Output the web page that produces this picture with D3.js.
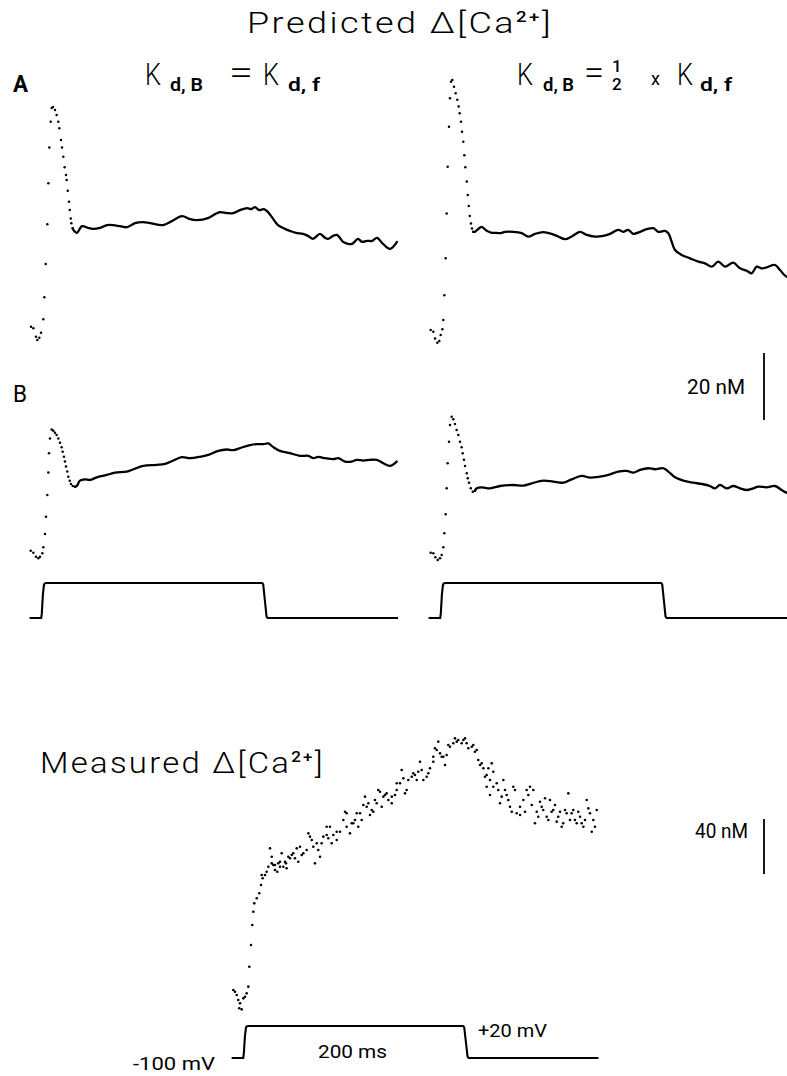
<!DOCTYPE html>
<html>
<head>
<meta charset="utf-8">
<script src="https://cdn.jsdelivr.net/npm/d3@7"></script>
<style>
  html, body { margin: 0; padding: 0; background: #fff; }
  svg { display: block; }
</style>
</head>
<body>
<svg id="fig" width="787" height="1076"></svg>
<script>
// ---- Data: time in ms from pulse onset, concentration change in nM ----

// Predicted, Kd,B = Kd,f, row A: fast phase (plotted as samples) and slow phase
const kdEqualA_dots = [[-11.7,0.4],[-9.6,-0.1],[-7.2,-2.6],[-6.0,-3.6],[-4.2,-2.9],[-2.7,-1.4],[-0.6,2.6],[0.3,9.2],[1.5,19.1],[3.0,31.0],[3.9,43.2],[4.8,53.9],[6.0,61.6],[6.9,65.7],[8.1,66.0],[9.9,65.1],[11.4,63.6],[12.9,61.6],[13.8,59.6],[15.3,56.1],[16.2,53.9],[17.4,51.1],[18.6,48.0],[19.8,45.7],[20.4,44.2],[21.4,41.0],[22.5,37.7],[23.2,35.2],[24.1,32.7],[24.6,31.3],[25.9,29.8]];
const kdEqualA_line = [[25.9,29.8],[27.0,29.0],[29.7,28.4],[34.2,30.4],[39.6,29.9],[44.1,29.6],[50.5,29.9],[56.8,30.7],[62.2,30.7],[68.5,30.4],[74.8,30.1],[82.0,31.3],[89.2,31.6],[95.5,31.3],[107.2,30.7],[115.3,31.9],[124.3,33.4],[131.5,32.5],[137.8,32.2],[147.7,32.8],[154.1,34.0],[158.6,34.6],[164.9,34.3],[170.3,34.3],[176.6,35.2],[182.9,35.8],[186.5,35.5],[190.1,36.1],[193.7,35.2],[198.2,35.5],[201.8,34.6],[207.2,32.2],[210.8,30.7],[217.1,29.6],[221.6,29.0],[227.0,28.4],[233.3,28.1],[237.8,27.5],[242.3,26.6],[248.6,28.1],[253.2,26.9],[255.9,26.6],[260.4,27.5],[264.0,27.8],[269.4,25.7],[273.9,25.1],[277.5,25.1],[282.9,26.6],[286.5,25.7],[291.0,26.0],[295.5,26.0],[300.0,26.9],[305.4,25.1],[311.7,23.6],[318.0,25.7]];

// Predicted, Kd,B = 1/2 x Kd,f, row A
const kdHalfA_dots = [[-11.1,0.0],[-8.7,-0.5],[-7.2,-2.5],[-5.1,-3.8],[-3.3,-3.3],[-2.1,-1.5],[-0.6,0.2],[0.3,3.0],[1.2,10.4],[2.4,21.4],[3.3,34.8],[4.2,48.7],[5.4,60.7],[6.3,69.2],[7.2,74.1],[8.4,74.6],[9.9,72.6],[11.4,70.7],[12.9,68.7],[14.1,66.7],[15.0,64.7],[16.2,62.2],[17.1,59.2],[18.3,56.2],[19.2,52.2],[20.1,48.6],[21.4,44.3],[22.3,40.3],[23.2,37.0],[24.1,34.0],[25.2,31.8],[26.1,30.3],[27.3,29.3]];
const kdHalfA_line = [[27.3,29.3],[28.8,29.3],[30.9,29.9],[34.9,30.8],[39.4,29.6],[43.9,29.0],[48.4,29.0],[51.4,28.9],[55.9,29.3],[63.3,29.3],[70.9,28.9],[76.8,27.9],[82.9,28.7],[90.4,29.2],[97.9,28.7],[103.9,27.9],[109.9,27.1],[115.9,27.9],[123.4,29.3],[129.5,28.4],[136.9,27.9],[144.4,28.1],[150.5,28.7],[158.0,29.9],[162.4,29.3],[166.9,29.9],[171.4,28.7],[177.5,29.3],[183.5,30.1],[189.5,30.4],[194.0,29.3],[200.0,29.6],[203.0,28.9],[206.0,26.4],[209.0,23.9],[215.0,22.4],[222.5,21.4],[230.0,20.4],[236.0,19.9],[242.1,18.9],[248.0,20.4],[254.1,18.9],[261.5,20.1],[267.6,18.4],[273.6,17.7],[278.1,16.9],[282.6,18.9],[287.2,18.4],[291.6,18.7],[299.1,19.4],[303.6,17.9],[309.6,15.9],[318.9,15.8]];

// Predicted, Kd,B = Kd,f, row B
const kdEqualB_dots = [[-12.0,0.1],[-9.6,-0.5],[-7.2,-1.7],[-5.1,-2.2],[-3.6,-1.7],[-1.5,-0.7],[-0.6,1.1],[0.9,5.1],[1.8,10.2],[3.0,16.7],[3.9,23.4],[4.5,29.2],[5.4,33.6],[6.9,36.3],[8.4,35.9],[9.9,35.3],[11.4,34.6],[12.9,33.6],[14.4,32.3],[15.9,31.0],[16.8,29.6],[18.0,28.1],[18.9,26.7],[19.8,25.2],[21.0,23.7],[21.9,22.2],[23.2,21.0],[24.3,20.0],[25.9,19.4],[27.9,19.2]];
const kdEqualB_line = [[27.9,19.2],[29.5,19.4],[32.4,21.0],[36.9,21.4],[41.4,21.2],[47.5,22.0],[56.5,22.7],[64.0,23.4],[74.5,23.7],[80.5,24.4],[89.5,25.4],[101.5,25.7],[109.0,26.0],[116.5,27.0],[124.1,28.0],[131.5,27.7],[140.5,28.1],[148.0,28.7],[157.0,29.9],[164.6,30.3],[170.5,30.1],[178.1,30.9],[185.6,31.6],[191.6,31.9],[197.6,31.9],[202.1,32.1],[206.6,31.0],[212.6,29.9],[221.6,29.2],[230.6,28.4],[238.1,28.4],[242.6,27.7],[247.1,28.1],[253.2,27.7],[260.6,27.4],[265.1,27.7],[271.2,26.7],[277.2,26.7],[281.7,27.2],[287.7,27.0],[293.7,27.2],[299.7,27.2],[305.7,26.2],[311.7,25.4],[317.7,26.7]];

// Predicted, Kd,B = 1/2 x Kd,f, row B
const kdHalfB_dots = [[-11.1,0.1],[-8.7,-0.1],[-6.9,-1.3],[-4.8,-2.1],[-2.7,-1.6],[-1.2,-0.6],[0.3,1.7],[1.2,5.9],[2.4,11.6],[3.3,19.3],[4.2,26.8],[5.4,33.2],[6.3,38.2],[7.8,40.7],[9.3,39.9],[10.8,38.5],[12.3,36.7],[13.8,35.2],[15.3,33.2],[16.8,31.6],[17.7,29.8],[18.9,27.8],[19.8,26.0],[21.4,23.8],[22.3,22.3],[23.4,21.0],[25.0,19.3],[26.8,18.3],[28.8,18.6]];
const kdHalfB_line = [[28.8,18.6],[30.4,19.3],[34.9,19.6],[42.3,19.3],[51.4,20.0],[63.3,20.3],[72.3,20.1],[79.9,20.8],[90.4,21.6],[99.4,21.3],[108.4,21.0],[115.9,22.0],[124.9,23.0],[132.4,22.5],[141.4,22.8],[148.9,23.3],[157.9,24.3],[165.5,24.5],[171.4,24.0],[177.5,24.8],[184.9,25.3],[191.0,25.0],[198.5,25.3],[203.0,24.3],[209.0,22.6],[216.5,21.6],[225.5,21.0],[233.1,20.6],[240.5,20.0],[245.0,19.3],[249.5,20.3],[255.6,19.3],[261.5,20.0],[267.6,19.3],[273.6,18.8],[279.5,19.3],[284.1,19.8],[291.6,19.6],[299.1,20.0],[305.1,18.8],[309.6,18.0],[318.9,17.6]];

// Measured signal, individual samples
const measuredDots = [[-11.5,7.3],[-10.0,6.0],[-8.4,3.6],[-7.0,0.0],[-6.1,-6.0],[-5.4,-2.4],[-3.9,-6.8],[-2.4,1.2],[-0.9,2.4],[0.6,4.9],[2.1,9.7],[3.0,24.2],[4.5,40.0],[5.7,54.5],[6.6,64.2],[7.5,70.3],[9.7,74.0],[12.0,77.6],[13.6,83.6],[14.2,90.9],[15.1,88.5],[17.2,90.9],[18.7,93.3],[20.2,96.9],[21.7,110.3],[23.3,104.2],[23.3,99.4],[24.7,98.2],[26.2,98.2],[26.2,94.5],[28.3,93.3],[29.2,99.4],[30.8,96.9],[30.8,100.6],[32.3,106.7],[33.8,96.9],[35.3,100.6],[36.2,99.4],[36.8,95.8],[38.3,104.2],[39.8,103.1],[41.4,105.5],[42.8,106.7],[44.3,103.1],[45.9,110.3],[47.3,100.6],[48.9,111.5],[50.4,105.5],[51.9,106.7],[54.9,109.1],[56.4,121.2],[57.9,118.8],[59.5,116.4],[60.9,111.5],[62.4,99.4],[64.0,114.0],[65.4,109.1],[67.0,104.2],[68.5,114.0],[70.0,118.8],[73.0,126.0],[73.0,120.0],[74.5,117.6],[76.0,126.0],[77.6,114.0],[79.0,120.0],[82.1,116.4],[82.1,122.4],[85.1,122.4],[88.1,130.9],[89.6,136.9],[91.1,126.0],[91.1,135.8],[94.1,121.2],[95.7,128.5],[97.1,128.5],[98.6,130.9],[100.2,135.8],[101.6,126.0],[103.2,135.8],[104.7,130.9],[106.2,141.8],[107.7,147.9],[109.2,140.6],[110.7,143.1],[112.2,134.5],[113.8,138.2],[115.2,136.9],[116.7,145.5],[118.3,143.1],[119.7,152.7],[121.3,151.5],[122.8,140.6],[124.3,147.9],[125.8,149.1],[127.3,150.3],[128.8,145.5],[131.9,143.1],[131.9,147.9],[134.8,149.1],[136.4,152.7],[136.4,157.6],[139.4,157.6],[140.9,167.3],[142.4,161.2],[143.9,150.3],[145.4,152.7],[146.9,160.0],[150.0,162.4],[151.4,164.9],[152.9,163.6],[154.5,160.0],[155.9,166.0],[157.5,173.3],[159.0,167.3],[160.5,160.0],[163.5,162.4],[165.0,164.9],[166.5,168.5],[169.5,173.3],[169.5,176.9],[171.0,183.1],[172.6,181.8],[174.0,187.9],[175.6,179.4],[177.1,176.9],[178.6,176.9],[180.1,170.9],[181.6,178.2],[183.1,185.5],[184.6,184.2],[187.6,186.7],[189.1,190.3],[190.7,187.9],[192.1,189.1],[195.2,186.7],[196.7,189.1],[198.2,190.3],[199.7,186.7],[201.2,183.1],[204.3,184.2],[205.7,185.5],[207.2,180.6],[208.8,181.8],[210.2,174.5],[211.8,170.9],[213.3,172.1],[214.8,168.5],[216.3,162.4],[217.8,163.6],[219.3,168.5],[222.4,172.1],[223.8,166.0],[217.8,155.1],[220.8,149.1],[220.8,160.0],[223.8,155.1],[226.9,157.6],[228.3,152.7],[229.9,143.1],[231.4,147.9],[232.9,160.0],[234.4,152.7],[235.9,149.1],[237.4,145.5],[238.9,140.6],[240.5,136.9],[241.9,155.1],[243.4,152.7],[245.0,135.8],[248.0,134.5],[248.0,140.6],[251.0,145.5],[252.5,136.9],[254.0,152.7],[255.5,149.1],[257.0,155.1],[258.6,141.8],[260.0,152.7],[261.5,128.5],[263.1,136.9],[264.5,133.3],[266.1,144.2],[267.6,140.6],[269.0,138.2],[270.6,146.7],[272.1,133.3],[273.6,130.9],[275.1,145.5],[276.6,136.9],[278.1,138.2],[279.6,141.8],[281.2,129.7],[282.6,133.3],[284.2,136.9],[285.7,126.0],[287.1,128.5],[288.7,138.2],[290.2,135.8],[291.7,150.3],[293.2,130.9],[294.7,135.8],[296.2,138.2],[297.7,130.9],[299.3,128.5],[300.7,136.9],[302.3,133.3],[303.8,128.5],[305.3,126.0],[306.8,130.9],[308.3,145.5],[309.8,139.4],[311.3,135.8],[312.9,122.4],[314.3,130.9],[315.8,126.0],[317.4,138.2]];

// Command voltage step: holding -100 mV, 200 ms step to +20 mV
const pulseT  = [-13, -2.5, -2, -1, 0, 1, 2.5, 196.5, 197.5, 199, 200.5, 201.5, 319];
const pulseMV = [-100, -100, -85, -20, 15, 19, 20, 20, 15, -40, -95, -100, -100];

// Scale bars (nM)
const scaleBarPredicted = 20;
const scaleBarMeasured = 40;

// ---- Drawing ----
const svg = d3.select("#fig");
const FONT = "Roboto, 'Open Sans', sans-serif";

function makeScales(x0, pxPerMs, y0, pxPerNm) {
  return {
    x: d3.scaleLinear().domain([0, 200]).range([x0, x0 + 200 * pxPerMs]),
    y: d3.scaleLinear().domain([0, 20]).range([y0, y0 - 20 * pxPerNm])
  };
}
function voltScale(yLow, yHigh) {
  return d3.scaleLinear().domain([-100, 20]).range([yLow, yHigh]);
}

function drawTrace(sc, dots, line, r) {
  const g = svg.append("g");
  g.selectAll("circle").data(dots).join("circle")
    .attr("cx", d => sc.x(d[0])).attr("cy", d => sc.y(d[1])).attr("r", r).attr("fill", "#000");
  if (line) {
    g.append("path").datum(line)
      .attr("d", d3.line().x(d => sc.x(d[0])).y(d => sc.y(d[1])).curve(d3.curveCatmullRom.alpha(0.5)))
      .attr("fill", "none").attr("stroke", "#000").attr("stroke-width", 2.3)
      .attr("stroke-linejoin", "round").attr("stroke-linecap", "round");
  }
}

function drawPulse(x, v) {
  const pts = pulseT.map((t, i) => [t, pulseMV[i]]);
  svg.append("path").datum(pts)
    .attr("d", d3.line().x(d => x(d[0])).y(d => v(d[1])))
    .attr("fill", "none").attr("stroke", "#000").attr("stroke-width", 2.1)
    .attr("stroke-linejoin", "round");
}

function label(x, y, str, size, weight, len) {
  const t = svg.append("text").attr("x", x).attr("y", y)
    .style("font-family", FONT).style("font-size", size + "px").style("font-weight", weight)
    .attr("fill", "#000").text(str);
  if (len) t.attr("textLength", len).attr("lengthAdjust", "spacingAndGlyphs");
  return t;
}

function caLabel(x, y, prefix, len) {
  const t = svg.append("text").attr("x", x).attr("y", y)
    .style("font-family", FONT).style("font-size", "29px").style("font-weight", 300)
    .style("letter-spacing", "2px")
    .attr("fill", "#000").attr("textLength", len).attr("lengthAdjust", "spacingAndGlyphs");
  t.append("tspan").text(prefix + "\u0394[Ca");
  t.append("tspan").attr("dy", -11).style("font-size", "15px").style("font-weight", 500).text("2+");
  t.append("tspan").attr("dy", 11).text("]");
}

// Panel geometry
const PX_MS = 1.11;
const PX_NM_PRED = 3.35;
const PX_NM_MEAS = 1.375;

const scEqA = makeScales(44, PX_MS, 328, PX_NM_PRED);
const scHalfA = makeScales(443, PX_MS, 330, PX_NM_PRED);
const scEqB = makeScales(44, PX_MS, 551, PX_NM_PRED);
const scHalfB = makeScales(443, PX_MS, 553, PX_NM_PRED);
const scMeas = makeScales(246, 1.105, 1000, PX_NM_MEAS);

drawTrace(scEqA, kdEqualA_dots, kdEqualA_line, 1.25);
drawTrace(scHalfA, kdHalfA_dots, kdHalfA_line, 1.25);
drawTrace(scEqB, kdEqualB_dots, kdEqualB_line, 1.25);
drawTrace(scHalfB, kdHalfB_dots, kdHalfB_line, 1.25);
drawTrace(scMeas, measuredDots, null, 1.3);

drawPulse(scEqB.x, voltScale(618, 583));
drawPulse(scHalfB.x, voltScale(618, 583));
drawPulse(scMeas.x, voltScale(1058, 1026));

// Scale bars
const barX = 764;
svg.append("line").attr("x1", barX).attr("x2", barX)
  .attr("y1", 353).attr("y2", 353 + (scEqA.y(0) - scEqA.y(scaleBarPredicted)))
  .attr("stroke", "#000").attr("stroke-width", 1.8);
svg.append("line").attr("x1", barX).attr("x2", barX)
  .attr("y1", 819).attr("y2", 819 + (scMeas.y(0) - scMeas.y(scaleBarMeasured)))
  .attr("stroke", "#000").attr("stroke-width", 1.8);

// Titles
caLabel(247, 33, "Predicted ", 306);
caLabel(40, 773, "Measured ", 285);

// K_d,B = K_d,f
label(145, 85, "K", 31, 300, 16);
label(170, 91, "d, B", 18, 600, 33);
label(229, 84, "=", 34, 300, 24);
label(263, 85, "K", 31, 300, 16);
label(288, 91, "d, f", 18, 600, 32);

// K_d,B = 1/2 x K_d,f
label(517, 85, "K", 31, 300, 16);
label(543, 91, "d, B", 18, 600, 31);
label(584, 84, "=", 34, 300, 20);
label(612, 72, "1", 17, 500);
label(612, 90, "2", 17, 500);
label(651, 85, "x", 18, 400);
label(677, 85, "K", 31, 300, 16);
label(700, 91, "d, f", 18, 600, 32);

// Panel letters
label(13, 92, "A", 23, 700, 15);
label(13, 402, "B", 23, 400, 14);

// Scale and pulse annotations
label(687, 394, "20 nM", 20, 400, 58);
label(695, 838, "40 nM", 20, 400, 53);
label(478, 1037, "+20 mV", 19, 400, 69);
label(318, 1058, "200 ms", 19, 400, 69);
label(133, 1070, "-100 mV", 18, 400, 82);
</script>
</body>
</html>
